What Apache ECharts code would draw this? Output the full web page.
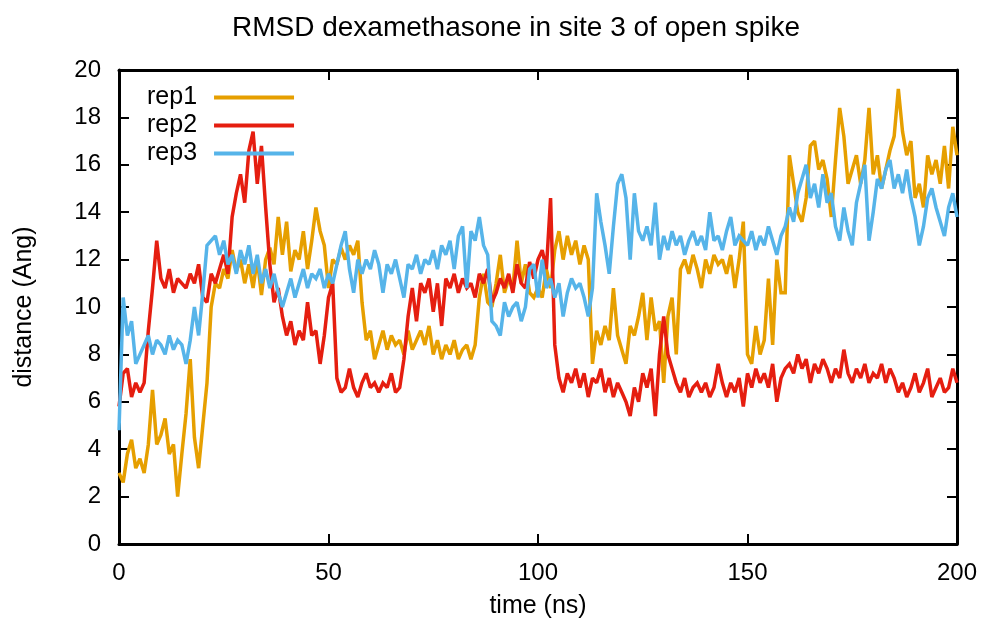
<!DOCTYPE html>
<html>
<head>
<meta charset="utf-8">
<script src="https://cdn.jsdelivr.net/npm/echarts@6/dist/echarts.min.js"></script>
<style>
html,body{margin:0;padding:0;background:#fff;}
#chart{width:987px;height:633px;}
</style>
</head>
<body>
<div id="chart"></div>
<script>
// time step between samples (ns)
const timeStep = 1;
const seriesNames = ['rep1', 'rep2', 'rep3'];
const xTicks = [0, 50, 100, 150, 200];

const rep1 = [
  3.0, 2.6, 3.8, 4.4, 3.2, 3.6, 3.0, 4.2, 6.5, 4.2,
  4.6, 5.3, 3.8, 4.2, 2.0, 3.8, 5.5, 7.8, 4.5, 3.2,
  5.0, 6.8, 10.0, 11.0, 10.8, 11.6, 11.2, 12.4, 11.5, 12.0,
  11.0, 11.8, 10.8, 12.0, 10.5, 12.0, 12.5, 11.8, 13.8, 12.2,
  13.6, 11.5, 12.4, 12.0, 13.2, 11.6, 12.8, 14.2, 13.2, 12.6,
  10.8, 12.0, 11.8, 12.5, 12.0, 12.6, 12.2, 12.8, 10.2, 8.6,
  9.0, 7.8, 8.4, 9.0, 8.2, 8.8, 8.4, 8.6, 8.0, 9.0,
  8.2, 8.6, 9.0, 8.4, 9.2, 8.0, 8.6, 7.8, 8.4, 8.0,
  8.6, 7.8, 8.2, 8.4, 7.8, 8.4, 10.4, 11.4, 10.2, 10.0,
  11.0, 12.2, 10.6, 11.2, 10.8, 12.8, 11.0, 11.8, 10.6, 10.4,
  10.8, 10.4, 11.6, 10.8, 12.4, 13.2, 12.0, 13.0, 12.2, 12.8,
  11.8, 12.6, 12.0, 7.6, 9.0, 8.4, 9.2, 8.6, 10.8, 8.8,
  8.2, 7.6, 9.2, 8.8, 9.6, 10.6, 8.6, 10.4, 9.0, 9.4,
  6.8, 9.6, 10.4, 8.0, 11.6, 12.0, 11.4, 12.2, 11.6, 10.8,
  12.0, 11.4, 12.2, 11.8, 12.0, 11.4, 12.2, 10.8, 12.0, 13.6,
  8.0, 7.6, 9.2, 8.0, 8.6, 11.2, 8.4, 12.0, 10.6, 10.6,
  16.4, 15.2, 14.0, 13.6, 14.6, 16.8, 17.0, 15.8, 16.2, 15.4,
  13.8, 16.2, 18.4, 17.2, 15.2, 15.8, 16.4, 15.2, 16.2, 18.4,
  15.6, 16.4, 15.0, 15.8, 16.6, 17.2, 19.2, 17.4, 16.4, 17.0,
  14.6, 15.2, 14.2, 16.4, 15.6, 16.2, 15.2, 16.8, 15.0, 17.6,
  16.4
];

const rep2 = [
  5.8, 7.2, 7.4, 6.2, 6.8, 6.4, 6.8, 9.0, 10.8, 12.8,
  11.2, 10.8, 11.6, 10.6, 11.2, 11.0, 10.8, 11.4, 11.0, 11.8,
  10.4, 10.2, 11.4, 11.0, 11.6, 12.2, 11.4, 13.8, 14.8, 15.6,
  14.4, 16.6, 17.4, 15.2, 16.8, 14.2, 11.8, 10.2, 10.8, 9.6,
  8.8, 9.4, 8.4, 9.0, 8.6, 10.2, 8.8, 9.0, 7.6, 8.8,
  10.4, 11.0, 7.0, 6.4, 6.6, 7.4, 6.6, 6.2, 6.8, 7.2,
  6.6, 6.8, 6.4, 6.8, 6.6, 7.2, 6.4, 6.6, 7.8, 9.6,
  10.8, 9.4, 11.0, 10.6, 11.2, 9.8, 11.0, 9.2, 11.2, 10.8,
  11.4, 10.6, 11.2, 10.8, 11.0, 10.4, 11.4, 11.0, 11.6, 10.2,
  10.6, 11.2, 10.8, 11.4, 10.6, 11.8, 11.0, 10.8, 11.9, 11.2,
  12.0, 12.4, 11.6, 14.6, 8.4, 7.0, 6.4, 7.2, 6.8, 7.4,
  6.6, 7.2, 6.2, 7.0, 6.8, 7.4, 6.4, 7.0, 6.2, 6.8,
  6.4, 6.0, 5.4, 6.6, 6.0, 7.2, 6.6, 7.4, 5.4, 8.0,
  9.6, 8.0, 7.4, 6.8, 6.4, 7.0, 6.2, 6.6, 6.8, 6.4,
  6.8, 6.2, 6.6, 7.6, 6.8, 6.2, 6.8, 6.4, 7.0, 5.8,
  7.2, 6.6, 7.4, 6.8, 7.2, 6.6, 7.6, 6.0, 7.0, 7.4,
  7.6, 7.2, 8.0, 7.4, 7.8, 6.8, 7.6, 7.2, 7.8, 7.4,
  6.8, 7.4, 7.0, 8.2, 7.2, 6.8, 7.4, 7.0, 7.6, 6.8,
  7.2, 7.0, 7.6, 6.8, 7.4, 7.0, 6.4, 6.8, 6.2, 6.6,
  7.2, 6.4, 6.8, 7.4, 6.2, 6.6, 7.0, 6.4, 6.6, 7.4,
  6.8
];

const rep3 = [
  4.8, 10.4, 8.8, 9.4, 7.6, 8.0, 8.4, 8.8, 8.0, 8.6,
  8.4, 8.0, 8.8, 8.2, 8.6, 8.4, 7.6, 8.6, 10.0, 8.8,
  10.6, 12.6, 12.8, 13.0, 12.2, 12.8, 11.8, 12.2, 11.4, 12.4,
  11.8, 12.6, 11.4, 12.2, 11.0, 11.6, 10.8, 11.4, 10.6, 10.0,
  10.6, 11.2, 10.4, 11.0, 11.6, 10.8, 11.4, 11.2, 11.6, 10.8,
  11.4, 11.0, 11.8, 12.6, 13.2, 11.6, 10.6, 12.0, 11.4, 12.0,
  11.6, 12.4, 11.8, 10.6, 11.8, 11.4, 12.0, 11.2, 10.4, 11.8,
  11.6, 12.2, 11.4, 12.0, 11.8, 12.4, 11.6, 12.6, 12.2, 12.8,
  11.6, 13.0, 13.4, 10.8, 13.2, 12.8, 13.8, 12.6, 12.2, 9.4,
  9.2, 8.8, 10.2, 9.6, 10.0, 10.2, 9.4, 10.0, 11.6, 11.8,
  10.4, 12.0, 10.8, 11.2, 10.4, 11.0, 9.6, 10.6, 11.2, 10.8,
  11.0, 10.4, 9.6, 10.8, 14.8, 13.6, 12.6, 11.4, 13.4, 15.2,
  15.6, 14.6, 12.0, 14.8, 13.2, 12.8, 13.4, 12.6, 14.4, 12.0,
  13.0, 12.4, 13.2, 12.6, 13.0, 12.2, 12.8, 13.2, 12.6, 13.0,
  12.4, 14.0, 12.8, 13.0, 12.4, 13.2, 13.8, 12.6, 13.0, 12.8,
  12.6, 13.2, 12.4, 13.0, 12.6, 13.4, 12.8, 12.2, 13.0, 13.4,
  14.2, 13.6, 14.8, 15.4, 16.0, 14.6, 15.2, 14.2, 15.6, 14.4,
  14.8, 13.4, 12.8, 14.2, 13.2, 12.6, 14.4, 15.2, 16.0, 12.8,
  14.0, 15.4, 15.0, 15.8, 16.2, 15.0, 15.6, 14.8, 15.8, 14.6,
  13.8, 12.6, 13.4, 14.6, 15.0, 14.2, 13.6, 13.0, 14.2, 14.8,
  13.8
];

const seriesData = [rep1, rep2, rep3];
const colors = ['#e69f00', '#e51e10', '#56b4e9'];

function toPairs(arr) {
  return arr.map(function (v, i) { return [i * timeStep, v]; });
}

const FONT = '"Liberation Sans", Arial, Helvetica, sans-serif';

const chart = echarts.init(document.getElementById('chart'), null, { renderer: 'canvas' });

const axisCommonX = {
  type: 'value',
  min: xTicks[0],
  max: xTicks[xTicks.length - 1],
  interval: 50,
  splitLine: { show: false },
  axisLine: { show: true, onZero: false, lineStyle: { color: '#000', width: 3 } },
  axisTick: { show: true, inside: true, length: 10, lineStyle: { color: '#000', width: 2 } }
};
const axisCommonY = {
  type: 'value',
  min: 0,
  max: 20,
  interval: 2,
  splitLine: { show: false },
  axisLine: { show: true, onZero: false, lineStyle: { color: '#000', width: 3 } },
  axisTick: { show: true, inside: true, length: 10, lineStyle: { color: '#000', width: 2 } }
};

const option = {
  animation: false,
  backgroundColor: '#fff',
  title: {
    text: 'RMSD dexamethasone in site 3 of open spike',
    left: 227,
    top: 9,
    textStyle: { fontFamily: FONT, fontSize: 28, fontWeight: 'normal', color: '#000' }
  },
  legend: {
    data: seriesNames,
    orient: 'vertical',
    left: 142,
    top: 80,
    align: 'right',
    icon: 'rect',
    itemWidth: 80,
    itemHeight: 4,
    itemGap: 3,
    textStyle: { fontFamily: FONT, fontSize: 25, color: '#000', lineHeight: 25, padding: [0, 12, 0, 0] }
  },
  grid: { left: 119, right: 30, top: 70, bottom: 89, containLabel: false },
  xAxis: [
    Object.assign({}, axisCommonX, {
      position: 'bottom',
      name: 'time (ns)',
      nameLocation: 'middle',
      nameGap: 50,
      nameTextStyle: { fontFamily: FONT, fontSize: 25, color: '#000' },
      axisLabel: { show: true, margin: 17, fontFamily: FONT, fontSize: 24, color: '#000' }
    }),
    Object.assign({}, axisCommonX, {
      position: 'top',
      axisLabel: { show: false }
    })
  ],
  yAxis: [
    Object.assign({}, axisCommonY, {
      position: 'left',
      name: 'distance (Ang)',
      nameLocation: 'middle',
      nameGap: 82,
      nameTextStyle: { fontFamily: FONT, fontSize: 25, color: '#000' },
      axisLabel: { show: true, margin: 18, fontFamily: FONT, fontSize: 24, color: '#000' }
    }),
    Object.assign({}, axisCommonY, {
      position: 'right',
      axisLabel: { show: false }
    })
  ],
  series: seriesNames.map(function (name, k) {
    return {
      name: name,
      type: 'line',
      xAxisIndex: 0,
      yAxisIndex: 0,
      data: toPairs(seriesData[k]),
      showSymbol: false,
      symbol: 'none',
      color: colors[k],
      lineStyle: { color: colors[k], width: 3.5, join: 'miter', miterLimit: 2 },
      z: 2 + k
    };
  })
};

chart.setOption(option);
</script>
</body>
</html>
